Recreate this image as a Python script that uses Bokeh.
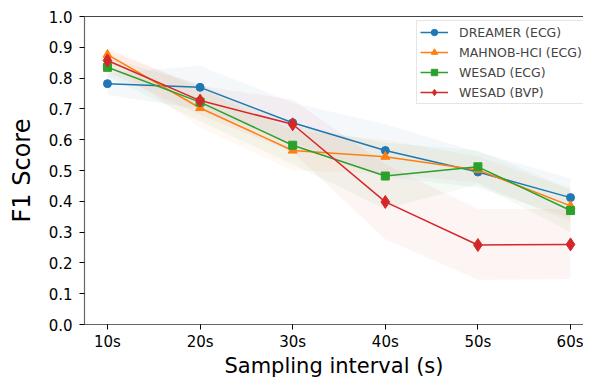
import numpy as np
from bokeh.plotting import figure
from bokeh.models import (Range1d, FixedTicker, LinearAxis, Legend, LegendItem,
                          NumeralTickFormatter, ColumnDataSource)
from bokeh.embed import file_html
from bokeh.resources import INLINE

# ---- data ----
intervals = [10, 20, 30, 40, 50, 60]
tick_labels = ["10s", "20s", "30s", "40s", "50s", "60s"]

dreamer_ecg = [0.782, 0.770, 0.655, 0.565, 0.495, 0.412]
dreamer_lo = [0.745, 0.700, 0.590, 0.480, 0.445, 0.345]
dreamer_hi = [0.815, 0.840, 0.720, 0.650, 0.560, 0.475]

mahnob_ecg = [0.876, 0.703, 0.565, 0.545, 0.502, 0.385]
mahnob_lo = [0.850, 0.640, 0.500, 0.490, 0.460, 0.330]
mahnob_hi = [0.900, 0.765, 0.630, 0.600, 0.545, 0.440]

wesad_ecg = [0.835, 0.722, 0.582, 0.482, 0.512, 0.370]
wesad_ecg_lo = [0.805, 0.660, 0.520, 0.375, 0.455, 0.300]
wesad_ecg_hi = [0.865, 0.780, 0.645, 0.590, 0.565, 0.440]

wesad_bvp = [0.857, 0.727, 0.650, 0.398, 0.258, 0.260]
wesad_bvp_lo = [0.820, 0.680, 0.560, 0.277, 0.145, 0.148]
wesad_bvp_hi = [0.890, 0.775, 0.730, 0.520, 0.375, 0.375]

series = [
    ("DREAMER (ECG)", dreamer_ecg, dreamer_lo, dreamer_hi, "#1f77b4", "circle", 8),
    ("MAHNOB-HCI (ECG)", mahnob_ecg, mahnob_lo, mahnob_hi, "#ff7f0e", "triangle", 9),
    ("WESAD (ECG)", wesad_ecg, wesad_ecg_lo, wesad_ecg_hi, "#2ca02c", "square", 8),
    ("WESAD (BVP)", wesad_bvp, wesad_bvp_lo, wesad_bvp_hi, "#d62728", "diamond", 13),
]

x_label = "Sampling interval (s)"
y_label = "F1 Score"

FONT = "DejaVu Sans"

p = figure(width=583, height=380, output_backend="svg", toolbar_location=None,
           x_range=Range1d(7.52, 61.4), y_range=Range1d(0, 1),
           min_border_left=84, min_border_top=16, min_border_right=0, min_border_bottom=56)
p.grid.visible = False
p.outline_line_color = None
p.background_fill_color = "white"
p.border_fill_color = "white"

items = []
for name, ys, lo, hi, color, marker, size in series:
    src = ColumnDataSource(dict(x=intervals, y=ys, lo=lo, hi=hi))
    p.varea(x="x", y1="lo", y2="hi", source=src, fill_color=color, fill_alpha=0.05)
for name, ys, lo, hi, color, marker, size in series:
    src = ColumnDataSource(dict(x=intervals, y=ys))
    l = p.line("x", "y", source=src, line_color=color, line_width=1.5)
    s = p.scatter("x", "y", source=src, marker=marker, size=size,
                  fill_color=color, line_color=color)
    items.append(LegendItem(label=name, renderers=[l, s]))

legend = Legend(items=items, location=(332, 220))
legend.label_text_font = FONT
legend.label_text_font_size = "12.5px"
legend.label_height = 16
legend.spacing = 4
legend.glyph_width = 28
legend.glyph_height = 16
legend.padding = 3
legend.margin = 0
legend.border_line_color = "#cccccc"
legend.background_fill_alpha = 0.85
legend.label_standoff = 11
p.add_layout(legend)

# x axis
xa = p.xaxis[0]
xa.ticker = FixedTicker(ticks=intervals)
xa.major_label_overrides = {iv: lab for iv, lab in zip(intervals, tick_labels)}
xa.axis_label = x_label
# y axis
ya = p.yaxis[0]
ya.ticker = FixedTicker(ticks=[i / 10 for i in range(11)])
ya.formatter = NumeralTickFormatter(format="0.0")
ya.axis_label = y_label

for ax in (xa, ya):
    ax.axis_line_color = "#666666"
    ax.axis_line_width = 1.2
    ax.major_tick_line_color = "black"
    ax.major_tick_in = 0
    ax.major_tick_out = 5
    ax.minor_tick_line_color = None
    ax.major_label_text_font = FONT
    ax.major_label_text_font_size = "15px"
    ax.major_label_text_color = "black"
    ax.axis_label_text_font = FONT
    ax.axis_label_text_font_style = "normal"
    ax.axis_label_text_color = "black"
xa.major_label_standoff = 3
xa.axis_label_standoff = 0
xa.axis_label_text_font_size = "21px"
ya.major_label_standoff = 7
ya.axis_label_standoff = 10
ya.axis_label_text_font_size = "24px"

top = LinearAxis(ticker=FixedTicker(ticks=[]), major_label_text_font_size="0px",
                 axis_line_color="#444444", axis_line_width=1.2,
                 major_tick_line_color=None, minor_tick_line_color=None)
p.add_layout(top, "above")

open("out.html", "w").write(file_html(p, INLINE))
